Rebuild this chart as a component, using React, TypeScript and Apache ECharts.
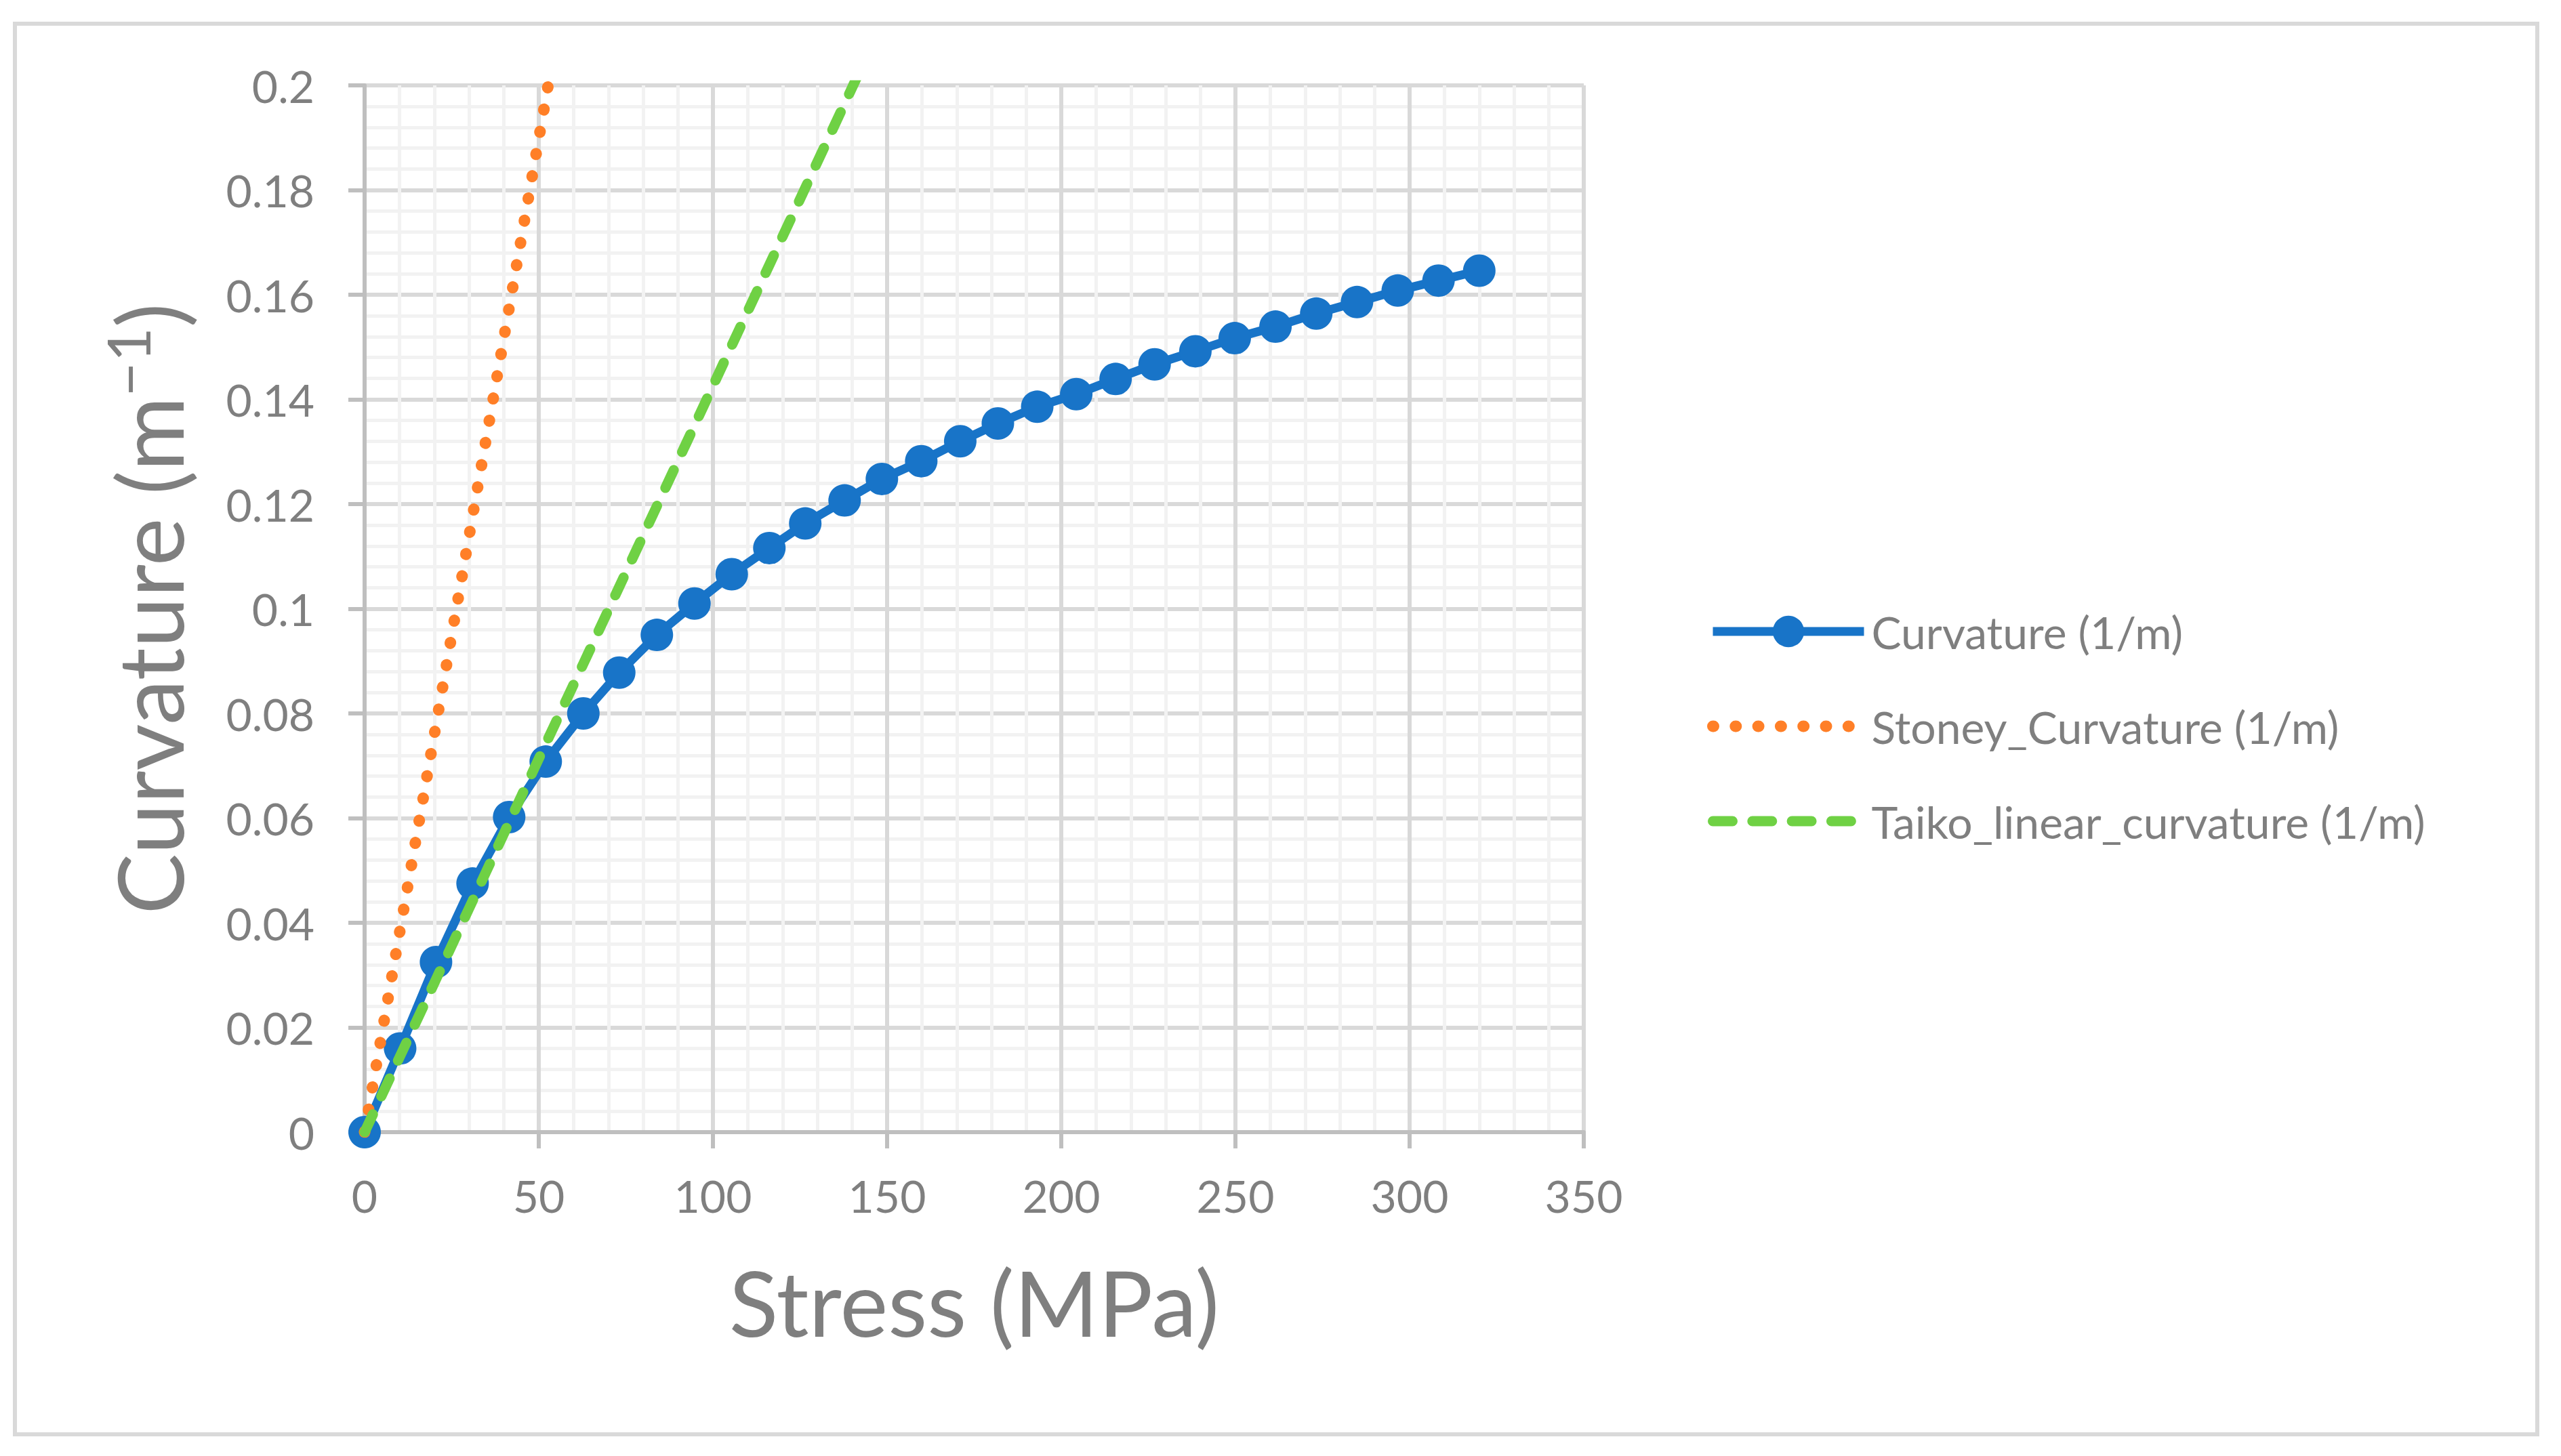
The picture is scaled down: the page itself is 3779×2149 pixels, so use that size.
import { useEffect, useRef } from 'react';
import * as echarts from 'echarts';

// Stress (MPa) of each measured point
const stress = [
  0, 10.2, 20.5, 31, 41.5, 52, 62.8, 73.1, 83.9, 94.7, 105.4, 116.2, 126.5, 137.8, 148.5,
  159.8, 171, 181.8, 193.1, 204.3, 215.6, 226.8, 238.5, 249.8, 261.5, 273.2, 284.9, 296.6, 308.3, 320,
];
// Curvature (1/m), measured
const curvature = [
  0, 0.016, 0.0325, 0.0475, 0.0602, 0.0708, 0.08, 0.0878, 0.095, 0.101, 0.1066, 0.1116, 0.1163, 0.1207, 0.1248,
  0.1282, 0.132, 0.1354, 0.1386, 0.141, 0.1439, 0.1467, 0.1492, 0.1517, 0.1539, 0.1564, 0.1586, 0.1608, 0.1627, 0.1646,
];
// Stoney_Curvature (1/m), only the first points fall inside the plot
const stoneyStress = [0, 10.2, 20.5, 31, 41.5, 52, 62.8];
const stoneyCurvature = [0, 0.0387, 0.0778, 0.1177, 0.1575, 0.1974, 0.2384];
// Taiko_linear_curvature (1/m)
const taikoStress = [0, 10.2, 20.5, 31, 41.5, 52, 62.8, 73.1, 83.9, 94.7, 105.4, 116.2, 126.5, 137.8, 148.5];
const taikoCurvature = [
  0, 0.01455, 0.0292, 0.0442, 0.0592, 0.0742, 0.0895, 0.1042, 0.1196, 0.135, 0.1503, 0.1657, 0.1804, 0.1965, 0.2118,
];

const seriesNames = ['Curvature (1/m)', 'Stoney_Curvature (1/m)', 'Taiko_linear_curvature (1/m)'];

const FONT = 'Lato';
const GREY = '#7f7f7f';

const zip = (xs: number[], ys: number[]) => xs.map((x, i) => [x, ys[i]]);

const App = () => {
  const chartRef = useRef<HTMLDivElement>(null);

  useEffect(() => {
    document.body.style.margin = '0';
    if (!chartRef.current) return;
    const myChart = echarts.init(chartRef.current, undefined, { renderer: 'svg' });

    const axisCommon = {
      axisLine: { show: true, onZero: false, lineStyle: { color: '#bfbfbf', width: 6 } },
      axisTick: { show: true, length: 24, lineStyle: { color: '#bfbfbf', width: 6 } },
      splitLine: { show: true, lineStyle: { color: '#d9d9d9', width: 6 } },
      minorTick: { show: false, splitNumber: 5 },
      minorSplitLine: { show: true, lineStyle: { color: '#f2f2f2', width: 5 } },
    };

    const option: echarts.EChartsOption = {
      animation: false,
      backgroundColor: '#ffffff',
      textStyle: { fontFamily: FONT, color: GREY },
      grid: { left: 538, right: 1442, top: 126, bottom: 478, containLabel: false },
      graphic: [
        {
          type: 'rect',
          left: 19,
          top: 32,
          shape: { x: 0, y: 0, width: 3722, height: 2082 },
          style: { fill: 'none', stroke: '#d9d9d9', lineWidth: 6 },
          silent: true,
        },
      ],
      xAxis: {
        type: 'value',
        min: 0,
        max: 350,
        interval: 50,
        ...axisCommon,
        axisLabel: { fontSize: 66, color: GREY, fontFamily: FONT, margin: 60 },
        name: 'Stress (MPa)',
        nameLocation: 'middle',
        nameGap: 183,
        nameTextStyle: { fontSize: 134, color: GREY, fontFamily: FONT },
      },
      yAxis: {
        type: 'value',
        min: 0,
        max: 0.2,
        interval: 0.02,
        ...axisCommon,
        axisLabel: { fontSize: 66, color: GREY, fontFamily: FONT, margin: 74 },
        name: '{a|Curvature (m}{b|−1}{a|)}',
        nameLocation: 'middle',
        nameGap: 244,
        nameTextStyle: {
          color: GREY,
          fontFamily: FONT,
          rich: {
            a: { fontSize: 134, lineHeight: 150, color: GREY, fontFamily: FONT },
            b: { fontSize: 88, lineHeight: 88, verticalAlign: 'top', color: GREY, fontFamily: FONT },
          },
        },
      },
      legend: {
        orient: 'vertical',
        left: 2519,
        top: 899,
        padding: 0,
        itemWidth: 223,
        itemHeight: 58,
        itemGap: 74,
        lineStyle: { width: 'inherit' as any },
        data: [
          { name: seriesNames[0] },
          { name: seriesNames[1], itemStyle: { opacity: 0, color: 'rgba(0,0,0,0)' } },
          { name: seriesNames[2], itemStyle: { opacity: 0, color: 'rgba(0,0,0,0)' } },
        ],
        textStyle: { fontSize: 66, color: GREY, fontFamily: FONT, lineHeight: 58, padding: [0, 0, 0, 6] },
      },
      series: [
        {
          name: seriesNames[0],
          type: 'line',
          data: zip(stress, curvature),
          symbol: 'circle',
          symbolSize: 48,
          itemStyle: { color: '#1874c8' },
          lineStyle: { color: '#1874c8', width: 13 },
          z: 3,
        },
        {
          name: seriesNames[1],
          type: 'line',
          data: zip(stoneyStress, stoneyCurvature),
          symbol: 'none',
          itemStyle: { color: '#ff7f27' },
          lineStyle: { color: '#ff7f27', width: 17, type: [1, 32.3], cap: 'round' },
          z: 4,
        },
        {
          name: seriesNames[2],
          type: 'line',
          data: zip(taikoStress, taikoCurvature),
          symbol: 'none',
          itemStyle: { color: '#6fd144' },
          lineStyle: { color: '#6fd144', width: 15, type: [29, 29.3], cap: 'round' },
          z: 5,
        },
      ],
    };

    myChart.setOption(option);
    return () => {
      myChart.dispose();
    };
  }, []);

  return <div ref={chartRef} style={{ width: '3779px', height: '2149px' }} />;
};

export default App;
